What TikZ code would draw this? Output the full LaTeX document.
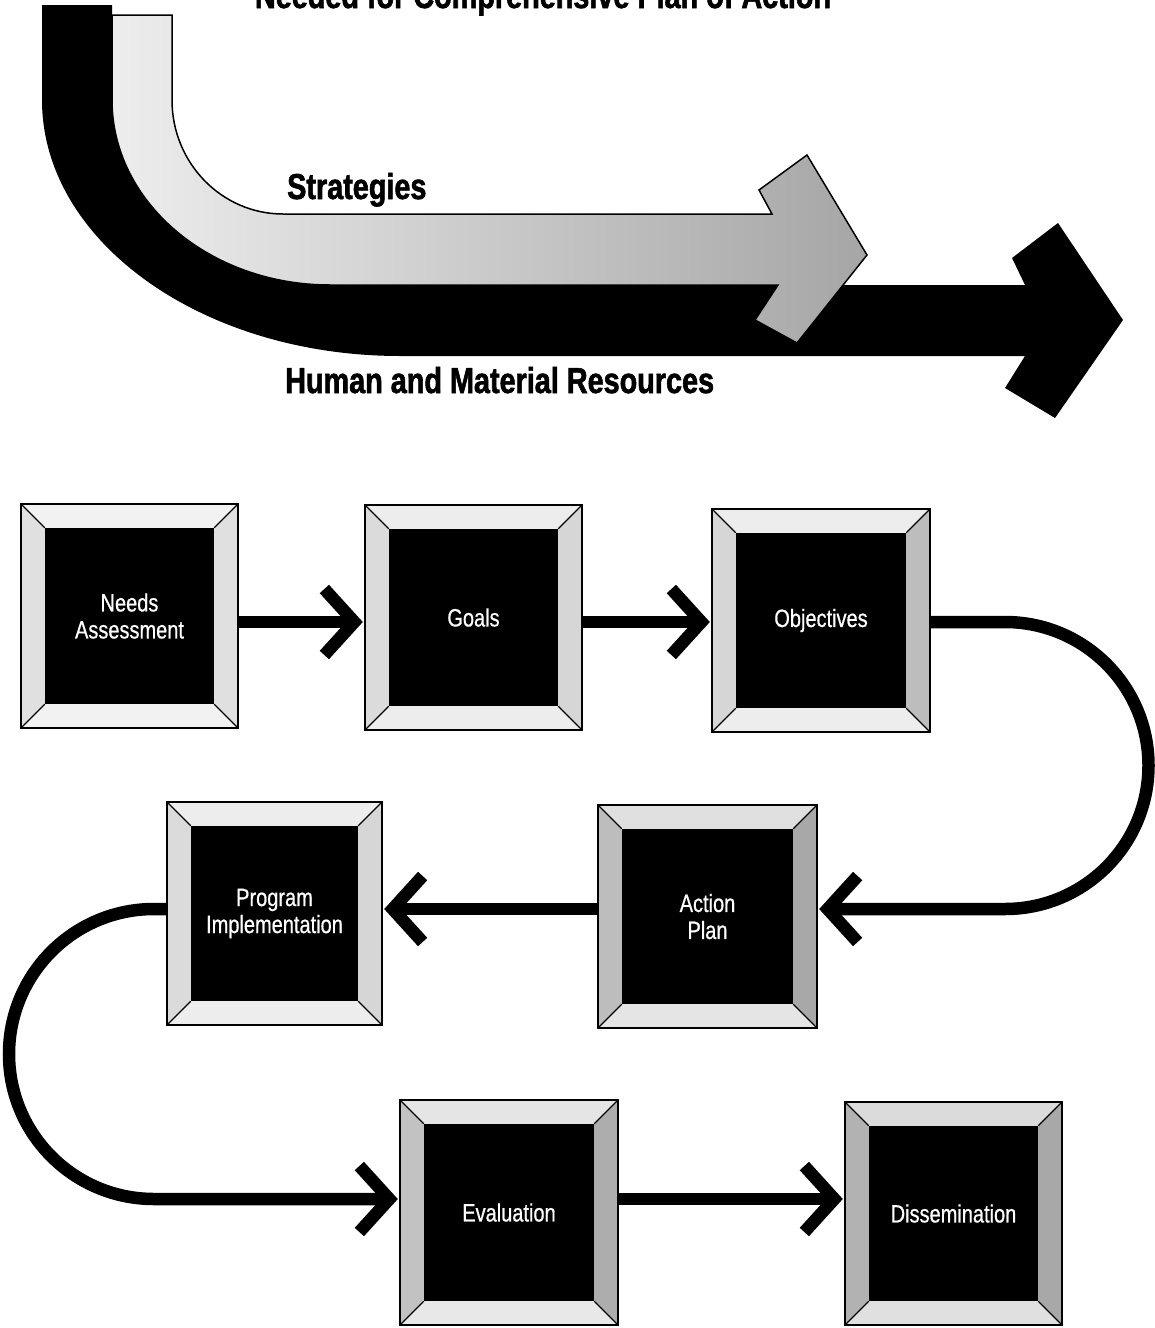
\documentclass[tikz,border=0pt]{standalone}
\usepackage{fontspec}
\usetikzlibrary{arrows.meta,calc}
\newfontfamily\headfont[FakeStretch=0.8,FakeBold=1.6]{Liberation Sans}
\newfontfamily\boxfont[FakeStretch=0.8,FakeBold=0.6]{Liberation Sans}
\newcommand\fw{24}
\newcommand\bevel[5]{%
  \fill[#2] (#1.north west) -- (#1.north east) -- ($(#1.north east)+(-\fw,-\fw)$) -- ($(#1.north west)+(\fw,-\fw)$) -- cycle;
  \fill[#3] (#1.north east) -- (#1.south east) -- ($(#1.south east)+(-\fw,\fw)$) -- ($(#1.north east)+(-\fw,-\fw)$) -- cycle;
  \fill[#4] (#1.south east) -- (#1.south west) -- ($(#1.south west)+(\fw,\fw)$) -- ($(#1.south east)+(-\fw,\fw)$) -- cycle;
  \fill[#5] (#1.south west) -- (#1.north west) -- ($(#1.north west)+(\fw,-\fw)$) -- ($(#1.south west)+(\fw,\fw)$) -- cycle;
  \draw[line width=1.3pt] (#1.north west) -- ++(\fw,-\fw) (#1.north east) -- ++(-\fw,-\fw)
    (#1.south east) -- ++(-\fw,\fw) (#1.south west) -- ++(\fw,\fw);
  \draw[line width=2.5pt] (#1.north west) rectangle (#1.south east);
}
\begin{document}
\begin{tikzpicture}[x=1pt,y=1pt,
  box/.style={fill=black,draw=none,inner sep=0pt,text=white,align=center,
    font=\boxfont\fontsize{25}{27}\selectfont},
  conn/.style={line width=12.5pt,-{Straight Barb[length=30pt,width=66pt]},shorten >=2pt},
  head/.style={font=\headfont\bfseries\fontsize{36}{40}\selectfont,inner sep=0pt,anchor=base west}]
\useasboundingbox (0,0) rectangle (1154,-1328);
\fill[white] (0,0) rectangle (1154,-1328);

% title (cut off at the top edge, as in the original)
\node[head,anchor=base] (title) at (543,-8) {Needed for Comprehensive Plan of Action};

% black band (Human and Material Resources)
\fill[black] (42,-5) -- (42,-100) arc[start angle=180,end angle=270,x radius=358,y radius=256]
  -- (1025,-356) -- (1005,-388) -- (1055,-418) -- (1123,-320) -- (1058,-223) -- (1012,-258)
  -- (1025,-285) -- (330,-285) arc[start angle=270,end angle=180,x radius=218,y radius=185]
  -- (112,-5) -- cycle;

% light band (Strategies)
\draw[line width=1.5pt,left color=black!7,right color=black!35]
  (112,-15) -- (112,-100) arc[start angle=180,end angle=270,x radius=218,y radius=185]
  -- (778,-285) -- (755,-320) -- (797,-343) -- (867,-255) -- (807,-155) -- (759,-190)
  -- (772,-214) -- (283,-214) arc[start angle=270,end angle=180,x radius=111,y radius=114]
  -- (172,-15) -- cycle;

\node[head] (strat) at (287,-199) {Strategies};
\node[head] (human) at (285,-393) {Human and Material Resources};

% boxes
\node[box,minimum width=217pt,minimum height=224pt] (needs) at (129.5,-616) {Needs\\Assessment};
\node[box,minimum width=217pt,minimum height=225pt] (goals) at (473.5,-617.5) {Goals};
\node[box,minimum width=218pt,minimum height=223pt] (obj) at (821,-620.5) {Objectives};
\node[box,minimum width=219pt,minimum height=223pt] (act) at (707.5,-916.5) {Action\\Plan};
\node[box,minimum width=215pt,minimum height=223pt] (prog) at (274.5,-913.5) {Program\\Implementation};
\node[box,minimum width=218pt,minimum height=225pt] (eval) at (509,-1212.5) {Evaluation};
\node[box,minimum width=217pt,minimum height=223pt] (diss) at (953.5,-1213.5) {Dissemination};

\bevel{needs}{black!5}{black!12}{black!5}{black!12}
\bevel{goals}{black!7}{black!16}{black!7}{black!14}
\bevel{obj}{black!7}{black!26}{black!7}{black!16}
\bevel{act}{black!12}{black!34}{black!10}{black!26}
\bevel{prog}{black!7}{black!16}{black!7}{black!14}
\bevel{eval}{black!10}{black!32}{black!9}{black!24}
\bevel{diss}{black!14}{black!34}{black!12}{black!30}

% connectors
\coordinate (r1) at (0,-622);
\coordinate (r2) at (0,-909);
\coordinate (r3) at (0,-1199);
\coordinate (rc) at (1005,-622);
\coordinate (lc) at (154,-909);
\draw[conn] (needs.east |- r1) -- (goals.west |- r1);
\draw[conn] (goals.east |- r1) -- (obj.west |- r1);
\draw[conn] (obj.east |- r1) -- (rc) arc[start angle=90,end angle=-90,radius=143.5] -- (act.east |- r2);
\draw[conn] (act.west |- r2) -- (prog.east |- r2);
\draw[conn] (prog.west |- r2) -- (lc) arc[start angle=90,end angle=270,radius=145] -- (eval.west |- r3);
\draw[conn] (eval.east |- r3) -- (diss.west |- r3);
\end{tikzpicture}
\end{document}
